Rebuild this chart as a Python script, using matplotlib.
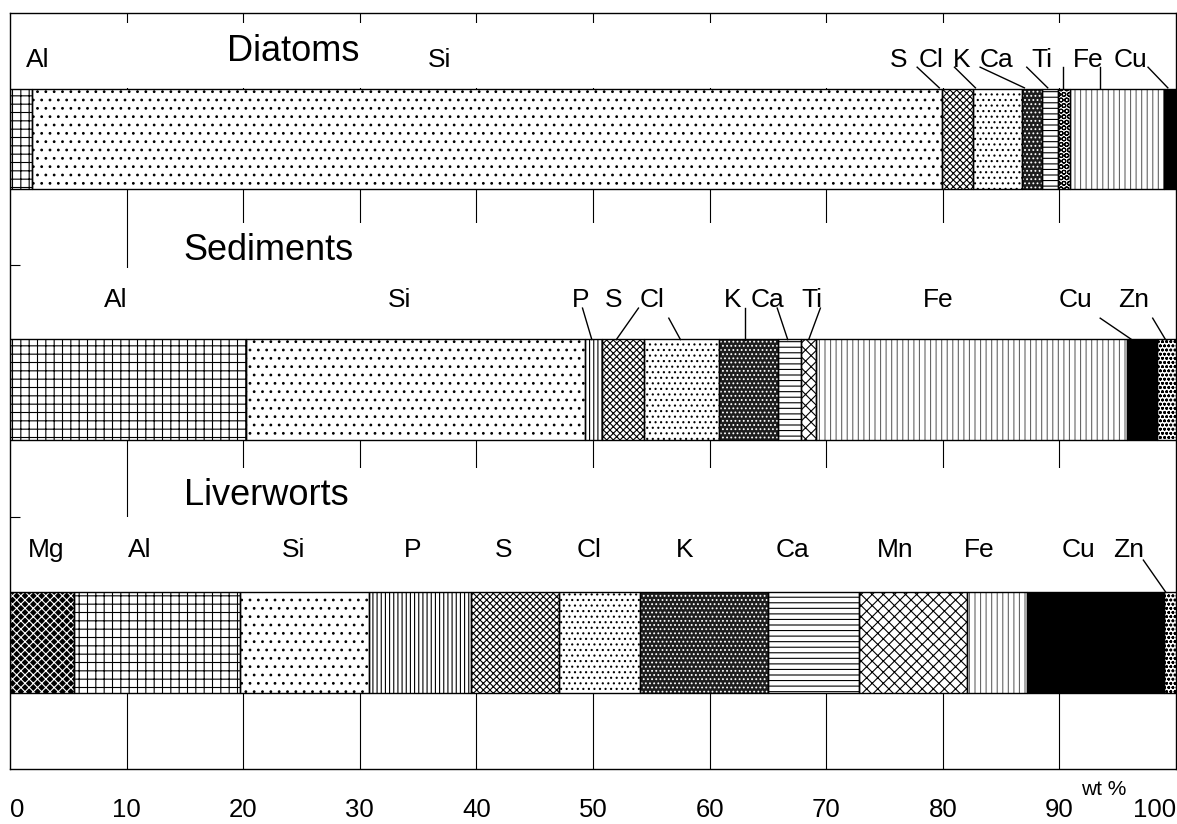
import numpy as np
import matplotlib
matplotlib.use('Agg')
from matplotlib import pyplot as plt

plt.rcParams['font.family'] = ['Liberation Sans', 'DejaVu Sans']
plt.rcParams['hatch.linewidth'] = 0.8

# wt % of each element, read left to right along each bar
diatom_elements = ['Al', 'Si', 'S', 'Cl', 'K', 'Ca', 'Ti', 'Fe', 'Cu']
diatom_wt = [1.9, 78.0, 2.7, 4.2, 1.7, 1.4, 1.0, 8.1, 1.0]

sediment_elements = ['Al', 'Si', 'P', 'S', 'Cl', 'K', 'Ca', 'Ti', 'Fe', 'Cu', 'Zn']
sediment_wt = [20.2, 29.1, 1.5, 3.6, 6.4, 5.1, 1.9, 1.3, 26.7, 2.6, 1.7]

liverwort_elements = ['Mg', 'Al', 'Si', 'P', 'S', 'Cl', 'K', 'Ca', 'Mn', 'Fe', 'Cu', 'Zn']
liverwort_wt = [5.5, 14.2, 11.1, 8.7, 7.6, 6.9, 11.0, 7.8, 9.3, 5.1, 11.8, 1.1]

xticks = [0, 10, 20, 30, 40, 50, 60, 70, 80, 90, 100]

# fill pattern per element: facecolor, hatch, hatch colour
styles = {
    'Mg': ('black', 'xxxx', 'white'),
    'Al': ('white', '++', 'black'),
    'Si': ('white', '..', 'black'),
    'P': ('white', '||||', 'black'),
    'S': ('white', 'xxxxx', 'black'),
    'Cl': ('white', '...', 'black'),
    'K': ('#1e1e1e', '....', 'white'),
    'Ca': ('white', '---', 'black'),
    'Ti': ('white', 'OOO', 'black'),
    'Ti2': ('white', 'xxx', 'black'),
    'Mn': ('white', 'xxx', 'black'),
    'Fe': ('white', '|||', '#666666'),
    'Cu': ('black', '', 'black'),
    'Zn': ('white', 'oooo', 'black'),
}

# label text positions (wt %) and leader lines (from x, to x)
diatom_labels = [('Al', 2.4, None), ('Si', 36.8, None), ('S', 76.2, (77.8, 79.7)),
                 ('Cl', 79.0, (81.0, 82.8)), ('K', 81.6, (83.2, 87.0)),
                 ('Ca', 84.6, (87.2, 89.0)), ('Ti', 88.5, (90.3, 90.3)),
                 ('Fe', 92.5, (93.5, 93.5)), ('Cu', 96.1, (97.6, 99.3))]
sediment_labels = [('Al', 9.1, None), ('Si', 33.4, None), ('P', 48.9, (49.1, 49.9)),
                   ('S', 51.8, (53.9, 52.0)), ('Cl', 55.1, (56.5, 57.5)),
                   ('K', 62.0, (63.0, 63.0)), ('Ca', 65.0, (65.8, 66.7)),
                   ('Ti', 68.8, (69.5, 68.5)), ('Fe', 79.6, None),
                   ('Cu', 91.4, (93.5, 96.2)), ('Zn', 96.4, (98.0, 99.1))]
liverwort_labels = [('Mg', 3.1, None), ('Al', 11.1, None), ('Si', 24.3, None),
                    ('P', 34.5, None), ('S', 42.3, None), ('Cl', 49.7, None),
                    ('K', 57.9, None), ('Ca', 67.1, None), ('Mn', 75.9, None),
                    ('Fe', 83.1, None), ('Cu', 91.6, None), ('Zn', 95.9, (97.2, 99.1))]


def draw_bar(ax, ypos, elements, wt, style_keys):
    lefts = np.concatenate([[0], np.cumsum(wt)[:-1]])
    for key, w, left in zip(style_keys, wt, lefts):
        fc, h, hc = styles[key]
        ax.barh(ypos, w, left=left, height=0.4, color=fc, hatch=h,
                edgecolor=hc, linewidth=0, zorder=2)
        ax.barh(ypos, w, left=left, height=0.4, fill=False,
                edgecolor='black', linewidth=1, zorder=3)


def draw_labels(ax, labels, y_text, y_from, y_to, low_leaders=()):
    for name, x, leader in labels:
        ax.text(x, y_text, name, ha='center', va='baseline', fontsize=19, zorder=4)
        if leader is not None:
            y0 = y_from - 0.04 if name in low_leaders else y_from
            ax.plot([leader[0], leader[1]], [y0, y_to], color='black', lw=1, zorder=4)


fig = plt.figure(figsize=(11.77, 8.24), dpi=100)
ax = fig.add_axes([10 / 1177, 55 / 824, 1166 / 1177, 756 / 824])

# vertical grid, hidden behind white label bands
ax.vlines(xticks[1:-1], 0, 3, color='black', lw=0.8, zorder=0.5)
ax.axhspan(2.703, 2.96, color='white', lw=0, zorder=1)
ax.axhspan(1.988, 2.167, xmin=0.15, xmax=1, color='white', lw=0, zorder=1)
ax.axhspan(1.704, 1.988, color='white', lw=0, zorder=1)
ax.axhspan(1.0, 1.194, xmin=0.15, xmax=1, color='white', lw=0, zorder=1)
ax.axhspan(0.702, 1.0, color='white', lw=0, zorder=1)

draw_bar(ax, 2.5, diatom_elements, diatom_wt, diatom_elements)
sed_keys = ['Ti2' if e == 'Ti' else e for e in sediment_elements]
draw_bar(ax, 1.505, sediment_elements, sediment_wt, sed_keys)
draw_bar(ax, 0.503, liverwort_elements, liverwort_wt, liverwort_elements)

ax.text(24.3, 2.81, 'Diatoms', ha='center', va='baseline', fontsize=26, zorder=4)
ax.text(22.2, 2.02, 'Sediments', ha='center', va='baseline', fontsize=26, zorder=4)
ax.text(22.0, 1.048, 'Liverworts', ha='center', va='baseline', fontsize=26, zorder=4)

draw_labels(ax, diatom_labels, 2.785, 2.785, 2.703)
draw_labels(ax, sediment_labels, 1.833, 1.829, 1.704, low_leaders=('Cl', 'Cu', 'Zn'))
draw_labels(ax, liverwort_labels, 0.841, 0.829, 0.703)

ax.set_xlim(0, 100)
ax.set_ylim(0, 3)
ax.set_axisbelow(False)
ax.set_xticks(xticks)
ax.set_xticklabels([str(t) for t in xticks])
ax.tick_params(axis='x', length=0, pad=21, labelsize=18.5)
ticklabels = ax.get_xticklabels()
ticklabels[0].set_ha('left')
ticklabels[-1].set_ha('right')
ax.set_yticks([1, 2])
ax.set_yticklabels([])
ax.tick_params(axis='y', direction='in', length=7, width=0.8)
for sp in ax.spines.values():
    sp.set_linewidth(1)

ax.text(93.8, -0.103, 'wt %', ha='center', va='baseline', fontsize=15, clip_on=False)

fig.savefig('out.png', dpi=100)
